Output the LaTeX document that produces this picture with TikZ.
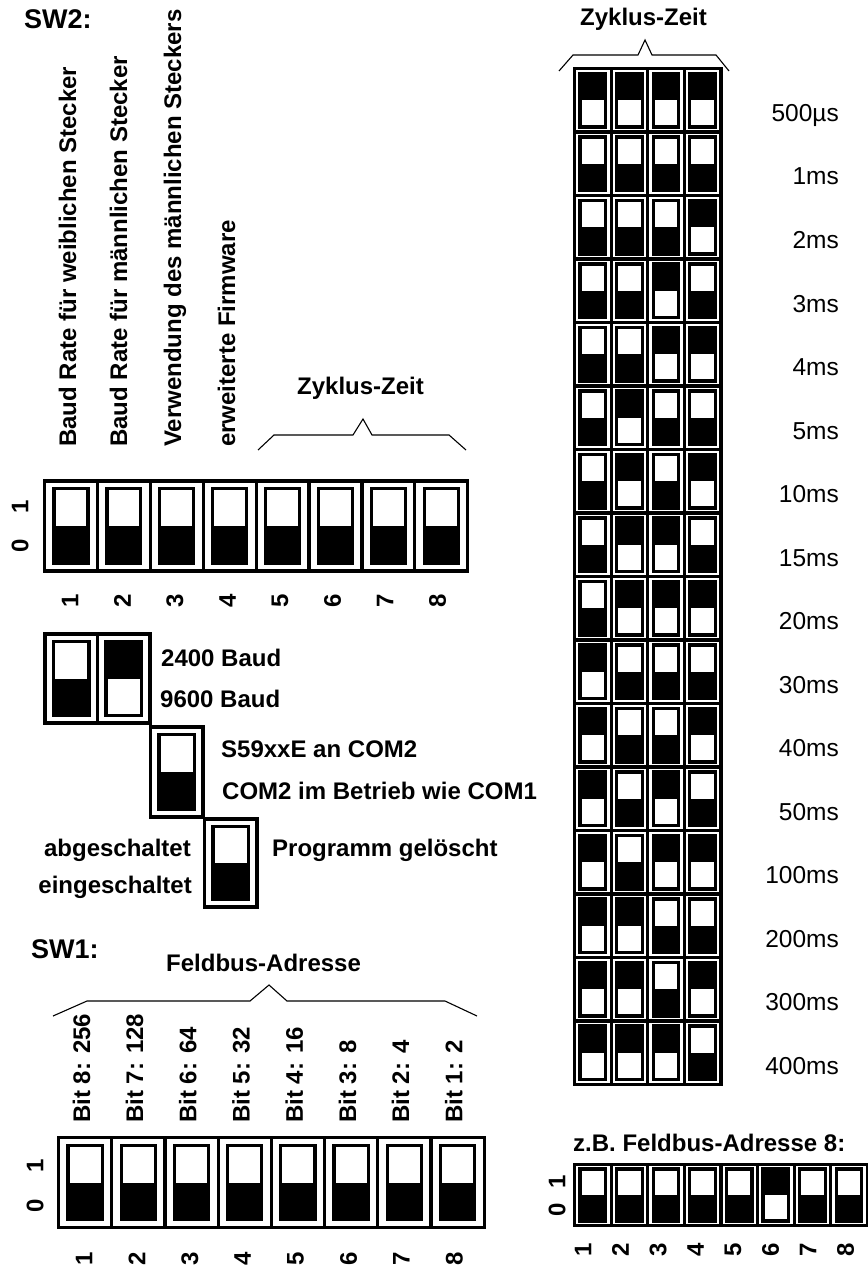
\documentclass[tikz,border=0pt]{standalone}
\usepackage{fontspec}
\setmainfont{Liberation Sans}
\newcommand{\swcell}[7]{%
  \draw[outerline] (#1,#2) rectangle ++(#3,#4);
  \pgfmathsetmacro{\swax}{#1+#5}%
  \pgfmathsetmacro{\swbx}{#1+#3-#5}%
  \pgfmathsetmacro{\sway}{#2+#6}%
  \pgfmathsetmacro{\swby}{#2+#4-#6}%
  \pgfmathsetmacro{\swmy}{#2+#4/2}%
  \ifnum#7=1\relax
    \fill (\swax,\sway) rectangle (\swbx,\swmy);
  \else
    \fill (\swax,\swmy) rectangle (\swbx,\swby);
  \fi
  \draw[innerline] (\swax,\sway) rectangle (\swbx,\swby);
}
\tikzset{
  outerline/.style={line width=3.2pt},
  innerline/.style={line width=3.2pt},
  brace/.style={line width=1.1pt, line join=miter},
  lbl/.style={font=\fontsize{24}{28}\selectfont\bfseries, inner sep=0pt},
  big/.style={font=\fontsize{27}{32}\selectfont\bfseries, inner sep=0pt},
  msl/.style={font=\fontsize{24.5}{28}\selectfont, inner sep=0pt},
  rot/.style={lbl, rotate=90},
}
\begin{document}
\begin{tikzpicture}[x=1pt, y=-1pt]
\useasboundingbox (0,0) rectangle (867,1268);

% ---------- SW2 ----------
\node[big, anchor=base west] (sw2) at (24,29) {SW2:};
\node[rot, anchor=base west] (l1) at (76,447) {Baud Rate für weiblichen Stecker};
\node[rot, anchor=base west] (l2) at (127,447) {Baud Rate für männlichen Stecker};
\node[rot, anchor=base west] (l3) at (181,447) {Verwendung des männlichen Steckers};
\node[rot, anchor=base west] (l4) at (235,447) {erweiterte Firmware};
\node[lbl, anchor=base west] (zz1) at (297,394) {Zyklus-Zeit};
\draw[brace] (258,450) -- (274,435) -- (353,435) -- (363,419) -- (372,435) -- (449,435) -- (466,450);

\foreach \i in {0,...,7}{
  \swcell{44.5+\i*52.9}{481}{52.9}{90}{9.5}{7.5}{0}
  \node[rot] (n2\i) at (70+\i*52.5,601) {\pgfmathparse{int(\i+1)}\pgfmathresult};
}
\node[rot] (sw2one) at (20,507) {1};
\node[rot] (sw2zero) at (20,546) {0};

% ---------- stepped switches ----------
\swcell{45}{634}{52.5}{89}{8.5}{7.5}{0}
\swcell{97.5}{634}{52.5}{89}{8.5}{7.5}{1}
\swcell{150.5}{727}{52.5}{90}{8.5}{7.5}{0}
\swcell{204.5}{819}{52.5}{88}{8.5}{7.5}{0}
\node[lbl, anchor=base west] (t2400) at (161,666) {2400 Baud};
\node[lbl, anchor=base west] (t9600) at (160,707) {9600 Baud};
\node[lbl, anchor=base west] (ts59) at (221,757) {S59xxE an COM2};
\node[lbl, anchor=base west] (tcom) at (222,799) {COM2 im Betrieb wie COM1};
\node[lbl, anchor=base west] (tprog) at (272,856) {Programm gelöscht};
\node[lbl, anchor=base east] (tab) at (191,856) {abgeschaltet};
\node[lbl, anchor=base east] (tein) at (192,893) {eingeschaltet};

% ---------- SW1 ----------
\node[big, anchor=base west] (sw1) at (31,958) {SW1:};
\node[lbl, anchor=base west] (fba) at (166,971) {Feldbus-Adresse};
\draw[brace] (53,1016) -- (87,1001) -- (250,1001) -- (269,985) -- (287,1001) -- (445,1001) -- (477,1016);
\foreach \i/\t in {0/{Bit 8: 256},1/{Bit 7: 128},2/{Bit 6: 64},3/{Bit 5: 32},4/{Bit 4: 16},5/{Bit 3: 8},6/{Bit 2: 4},7/{Bit 1: 2}}{
  \node[rot, anchor=base west] (b\i) at (90+\i*53.2,1123) {\t};
}
\foreach \i in {0,...,7}{
  \swcell{58.5+\i*53.2}{1137.5}{53.2}{90}{9.5}{8}{0}
  \node[rot] (n1\i) at (84+\i*52.9,1259) {\pgfmathparse{int(\i+1)}\pgfmathresult};
}
\node[rot] (sw1one) at (35,1166) {1};
\node[rot] (sw1zero) at (35,1206) {0};

% ---------- Zyklus-Zeit table ----------
\node[lbl, anchor=base west] (zz2) at (580,26) {Zyklus-Zeit};
\draw[brace] (559,71) -- (573,55) -- (638,55) -- (645,40) -- (652,55) -- (716,55) -- (729,71);
\foreach \r/\lab/\a/\b/\c/\d in {
  0/500µs/1/1/1/1, 1/1ms/0/0/0/0, 2/2ms/0/0/0/1, 3/3ms/0/0/1/0,
  4/4ms/0/0/1/1, 5/5ms/0/1/0/0, 6/10ms/0/1/0/1, 7/15ms/0/1/1/0,
  8/20ms/0/1/1/1, 9/30ms/1/0/0/0, 10/40ms/1/0/0/1, 11/50ms/1/0/1/0,
  12/100ms/1/0/1/1, 13/200ms/1/1/0/0, 14/300ms/1/1/0/1, 15/400ms/1/1/1/0}{
  \pgfmathsetmacro{\ry}{68.5+\r*63.5}
  \swcell{574.5}{\ry}{36.6}{63.5}{5.5}{5}{\a}
  \swcell{611.1}{\ry}{36.6}{63.5}{5.5}{5}{\b}
  \swcell{647.7}{\ry}{36.6}{63.5}{5.5}{5}{\c}
  \swcell{684.3}{\ry}{36.6}{63.5}{5.5}{5}{\d}
  \node[msl, anchor=base east] (ms\r) at (839,\ry+53) {\lab};
}

% ---------- example ----------
\node[lbl, anchor=base west] (ex) at (573,1151) {z.B. Feldbus-Adresse 8:};
\foreach \i/\s in {0/0,1/0,2/0,3/0,4/0,5/1,6/0,7/0}{
  \swcell{574.5+\i*36.6}{1164.5}{36.6}{61}{5.5}{4.5}{\s}
  \node[rot] (ne\i) at (583+\i*37.5,1250) {\pgfmathparse{int(\i+1)}\pgfmathresult};
}
\node[rot] (exone) at (557,1182) {1};
\node[rot] (exzero) at (557,1210) {0};
\end{tikzpicture}
\end{document}
